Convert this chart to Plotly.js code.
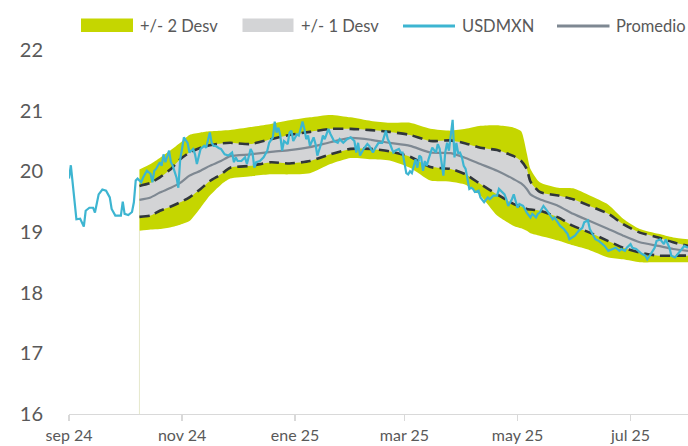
<!DOCTYPE html>
<html><head><meta charset="utf-8">
<script src="https://cdn.plot.ly/plotly-3.0.1.min.js"></script>
<style>html,body{margin:0;padding:0;background:#fff;}#chart{width:688px;height:446px;}</style>
</head><body><div id="chart"></div>
<script>
const fxDates = ['2024-09-01','2024-09-02','2024-09-05','2024-09-07','2024-09-09','2024-09-10','2024-09-12','2024-09-14','2024-09-15','2024-09-17','2024-09-19','2024-09-21','2024-09-23','2024-09-24','2024-09-26','2024-09-29','2024-09-30',
'2024-10-01','2024-10-03','2024-10-05','2024-10-06','2024-10-07','2024-10-08','2024-10-10','2024-10-11','2024-10-12','2024-10-13','2024-10-15','2024-10-16','2024-10-17','2024-10-18','2024-10-20','2024-10-21','2024-10-22','2024-10-23','2024-10-25','2024-10-26','2024-10-27','2024-10-29','2024-10-30','2024-10-31',
'2024-11-01','2024-11-02','2024-11-04','2024-11-05','2024-11-07','2024-11-08','2024-11-09','2024-11-11','2024-11-13','2024-11-14','2024-11-16','2024-11-17','2024-11-18','2024-11-19','2024-11-21','2024-11-22','2024-11-24','2024-11-26','2024-11-28','2024-11-29','2024-11-30',
'2024-12-01','2024-12-03','2024-12-05','2024-12-06','2024-12-08','2024-12-09','2024-12-10','2024-12-11','2024-12-13','2024-12-15','2024-12-17','2024-12-18','2024-12-20','2024-12-21','2024-12-22','2024-12-23','2024-12-24','2024-12-25','2024-12-26','2024-12-28','2024-12-29','2024-12-30','2024-12-31',
'2025-01-02','2025-01-03','2025-01-04','2025-01-05','2025-01-06','2025-01-07','2025-01-08','2025-01-09','2025-01-11','2025-01-12','2025-01-13','2025-01-15','2025-01-16','2025-01-17','2025-01-19','2025-01-20','2025-01-22','2025-01-24','2025-01-25','2025-01-27','2025-01-29','2025-01-31',
'2025-02-02','2025-02-03','2025-02-04','2025-02-05','2025-02-07','2025-02-09','2025-02-10','2025-02-12','2025-02-13','2025-02-15','2025-02-17','2025-02-18','2025-02-19','2025-02-20','2025-02-21','2025-02-23','2025-02-24','2025-02-26','2025-02-27','2025-02-28',
'2025-03-02','2025-03-03','2025-03-04','2025-03-05','2025-03-07','2025-03-08','2025-03-09','2025-03-10','2025-03-11','2025-03-12','2025-03-13','2025-03-14','2025-03-15','2025-03-16','2025-03-18','2025-03-19','2025-03-20','2025-03-21','2025-03-22','2025-03-23','2025-03-24','2025-03-25','2025-03-26','2025-03-27','2025-03-28','2025-03-29','2025-03-30','2025-03-31',
'2025-04-01','2025-04-02','2025-04-03','2025-04-04','2025-04-05','2025-04-06','2025-04-07','2025-04-08','2025-04-10','2025-04-11','2025-04-13','2025-04-15','2025-04-16','2025-04-18','2025-04-20','2025-04-21','2025-04-22','2025-04-24','2025-04-25','2025-04-26','2025-04-28','2025-04-29','2025-04-30',
'2025-05-01','2025-05-02','2025-05-04','2025-05-05','2025-05-06','2025-05-08','2025-05-09','2025-05-11','2025-05-12','2025-05-13','2025-05-15','2025-05-17','2025-05-18','2025-05-20','2025-05-21','2025-05-24','2025-05-26','2025-05-28','2025-05-29','2025-05-31',
'2025-06-01','2025-06-03','2025-06-05','2025-06-06','2025-06-08','2025-06-09','2025-06-10','2025-06-12','2025-06-14','2025-06-16','2025-06-17','2025-06-19','2025-06-21','2025-06-23','2025-06-25','2025-06-26','2025-06-28','2025-06-29',
'2025-07-01','2025-07-02','2025-07-04','2025-07-05','2025-07-07','2025-07-09','2025-07-10','2025-07-12','2025-07-14','2025-07-15','2025-07-17','2025-07-19','2025-07-20','2025-07-22','2025-07-23','2025-07-25','2025-07-27','2025-07-29','2025-07-30','2025-08-01'];
const fxValues = [19.88,20.10,19.21,19.22,19.09,19.35,19.40,19.40,19.32,19.62,19.70,19.68,19.57,19.38,19.27,19.27,19.50,
19.30,19.28,19.33,19.49,19.85,19.88,19.82,19.90,19.95,20.01,19.96,19.82,20.01,20.04,20.15,20.09,20.28,20.15,20.34,20.15,20.09,19.90,19.73,20.20,
20.37,20.56,20.47,20.31,20.37,20.28,20.12,20.37,20.42,20.39,20.64,20.47,20.42,20.42,20.38,20.37,20.28,20.26,20.31,20.15,20.23,
20.17,20.17,20.23,20.12,20.37,20.31,20.06,20.15,20.17,20.23,20.34,20.47,20.56,20.82,20.64,20.72,20.59,20.34,20.50,20.45,20.64,20.67,20.50,
20.61,20.59,20.70,20.82,20.70,20.53,20.59,20.42,20.56,20.45,20.26,20.45,20.59,20.53,20.70,20.62,20.50,20.47,20.53,20.47,20.53,20.56,
20.50,20.31,20.47,20.26,20.37,20.45,20.42,20.31,20.37,20.47,20.47,20.59,20.67,20.53,20.47,20.31,20.34,20.37,20.31,20.31,
19.97,19.95,20.00,19.97,20.20,20.06,20.26,20.23,20.01,20.17,20.09,20.20,20.30,20.39,20.31,20.45,20.37,20.17,19.93,20.31,20.47,20.34,20.64,20.85,20.23,20.47,20.30,20.31,
20.23,20.09,20.04,19.87,19.71,19.73,19.71,19.66,19.68,19.57,19.49,19.57,19.54,19.60,19.60,19.71,19.68,19.62,19.54,19.43,19.54,19.62,19.51,
19.40,19.46,19.43,19.38,19.32,19.24,19.30,19.24,19.30,19.32,19.43,19.35,19.30,19.21,19.24,19.10,19.05,18.97,18.88,18.93,
18.94,19.02,19.07,19.16,19.19,19.05,18.99,18.88,18.85,18.80,18.77,18.69,18.72,18.74,18.69,18.72,18.69,18.74,
18.80,18.74,18.72,18.69,18.64,18.61,18.55,18.64,18.74,18.85,18.88,18.80,18.88,18.74,18.61,18.58,18.66,18.72,18.77,18.74];

const bandDates = ['2024-10-09','2024-10-15','2024-10-20','2024-10-26','2024-10-31','2024-11-05','2024-11-11','2024-11-16','2024-11-22','2024-11-27',
'2024-12-08','2024-12-19','2024-12-29','2025-01-09','2025-01-20','2025-01-31','2025-02-11','2025-02-21','2025-03-04','2025-03-15',
'2025-03-26','2025-04-03','2025-04-11','2025-04-20','2025-04-29','2025-05-03','2025-05-06','2025-05-08','2025-05-13','2025-05-23',
'2025-05-31','2025-06-09','2025-06-19','2025-06-27','2025-07-06','2025-07-16','2025-07-24','2025-08-01'];
const meanVals = [19.53,19.57,19.65,19.73,19.81,19.93,20.01,20.09,20.17,20.25,20.28,20.32,20.35,20.40,20.48,20.55,20.52,20.47,20.42,20.31,
20.30,20.22,20.12,20.01,19.87,19.80,19.71,19.62,19.54,19.43,19.30,19.18,19.05,18.94,18.83,18.77,18.72,18.69];
const up1Vals = [19.76,19.81,19.90,20.04,20.20,20.31,20.39,20.43,20.46,20.47,20.45,20.53,20.60,20.65,20.70,20.70,20.68,20.65,20.60,20.50,
20.51,20.46,20.39,20.35,20.25,20.17,20.04,19.83,19.66,19.60,19.54,19.43,19.30,19.13,18.99,18.91,18.83,18.77];
const lo1Vals = [19.25,19.27,19.35,19.42,19.49,19.57,19.71,19.84,19.95,20.06,20.09,20.15,20.13,20.17,20.28,20.37,20.37,20.33,20.24,20.07,
20.04,19.95,19.79,19.62,19.46,19.42,19.38,19.37,19.35,19.24,19.10,18.99,18.85,18.74,18.66,18.61,18.61,18.61];
const up2Vals = [20.03,20.12,20.22,20.35,20.47,20.60,20.64,20.66,20.67,20.68,20.73,20.78,20.84,20.89,20.93,20.89,20.83,20.80,20.80,20.70,
20.67,20.70,20.75,20.76,20.72,20.66,20.30,20.04,19.82,19.73,19.72,19.60,19.45,19.22,19.05,18.97,18.91,18.88];
const lo2Vals = [19.02,19.04,19.05,19.08,19.12,19.18,19.40,19.60,19.78,19.88,19.92,19.95,19.95,19.97,20.12,20.22,20.20,20.18,20.06,19.85,
19.83,19.78,19.60,19.27,19.10,19.06,19.02,18.98,18.94,18.86,18.78,18.70,18.58,18.55,18.50,18.50,18.50,18.50];

const tickDates = ['2024-09-01','2024-11-01','2025-01-01','2025-03-01','2025-05-01','2025-07-01'];
const tickLabels = ['sep 24','nov 24','ene 25','mar 25','may 25','jul 25'];
const yTicks = [16,17,18,19,20,21,22];
const legendLabels = ['+/- 2 Desv','+/- 1 Desv','USDMXN','Promedio'];

const GREEN = '#c5d600', GRAY = '#d3d4d6', BLUE = '#3db5d1', MEAN = '#7e8892', DASH = '#30363b';
const FONT = 'Lato, "Open Sans", sans-serif';
const spl = {shape:'spline', smoothing:0.6};

const traces = [
  {x:bandDates, y:lo2Vals, type:'scatter', mode:'lines', line:Object.assign({width:0, color:GREEN}, spl), hoverinfo:'skip'},
  {x:bandDates, y:up2Vals, type:'scatter', mode:'lines', fill:'tonexty', fillcolor:GREEN, line:Object.assign({width:0, color:GREEN}, spl), name:legendLabels[0]},
  {x:bandDates, y:lo1Vals, type:'scatter', mode:'lines', line:Object.assign({width:0, color:GRAY}, spl), hoverinfo:'skip'},
  {x:bandDates, y:up1Vals, type:'scatter', mode:'lines', fill:'tonexty', fillcolor:GRAY, line:Object.assign({width:0, color:GRAY}, spl), name:legendLabels[1]},
  {x:bandDates, y:up1Vals, type:'scatter', mode:'lines', line:Object.assign({width:2.6, color:DASH, dash:'10px,6px'}, spl)},
  {x:bandDates, y:lo1Vals, type:'scatter', mode:'lines', line:Object.assign({width:2.6, color:DASH, dash:'10px,6px'}, spl)},
  {x:bandDates, y:meanVals, type:'scatter', mode:'lines', line:Object.assign({width:2.2, color:MEAN}, spl), name:legendLabels[3]},
  {x:fxDates, y:fxValues, type:'scatter', mode:'lines', line:{width:2.2, color:BLUE}, name:legendLabels[2]}
];

const L = 69, R = 688, T = 50, B = 414;
const px = x => (x - L) / (R - L);
const py = y => (B - y) / (B - T);

const shapes = [
  {type:'line', xref:'x', yref:'y', x0:bandDates[0], x1:bandDates[0], y0:16, y1:lo2Vals[0], line:{color:'#e6e8cc', width:1}, layer:'below'},
  {type:'rect', xref:'paper', yref:'paper', x0:px(81), x1:px(133), y0:py(32), y1:py(18.5), fillcolor:GREEN, line:{width:0}},
  {type:'rect', xref:'paper', yref:'paper', x0:px(242.5), x1:px(293.5), y0:py(32), y1:py(18.5), fillcolor:GRAY, line:{width:0}},
  {type:'line', xref:'paper', yref:'paper', x0:px(403), x1:px(455), y0:py(26), y1:py(26), line:{color:BLUE, width:3}},
  {type:'line', xref:'paper', yref:'paper', x0:px(557), x1:px(609.5), y0:py(26), y1:py(26), line:{color:MEAN, width:3}}
];
const legX = [138, 299, 460, 614];
const annotations = legendLabels.map((t, i) => ({
  xref:'paper', yref:'paper', x:px(legX[i]), y:py(25.5), text:t, showarrow:false,
  xanchor:'left', yanchor:'middle', font:{family:FONT, size:16.5, color:'#595959'}
}));

const layout = {
  width:688, height:446,
  margin:{l:L, r:0, t:T, b:446-B, pad:0},
  paper_bgcolor:'#fff', plot_bgcolor:'#fff',
  showlegend:false,
  xaxis:{type:'date', range:['2024-09-01','2025-08-01'], tickvals:tickDates, ticktext:tickLabels,
    showgrid:false, zeroline:false, showline:true, linecolor:'#d9d9d9', linewidth:1.3,
    ticks:'outside', ticklen:6, tickcolor:'#d9d9d9', tickwidth:1.3,
    tickfont:{family:FONT, size:16, color:'#595959'}, fixedrange:true},
  yaxis:{range:[16,22], tickvals:yTicks, showgrid:false, zeroline:false, showline:false,
    ticks:'outside', ticklen:21, tickcolor:'rgba(0,0,0,0)',
    tickfont:{family:FONT, size:20, color:'#595959'}, fixedrange:true},
  shapes:shapes, annotations:annotations
};
Plotly.newPlot('chart', traces, layout, {staticPlot:true, displayModeBar:false});
</script></body></html>
